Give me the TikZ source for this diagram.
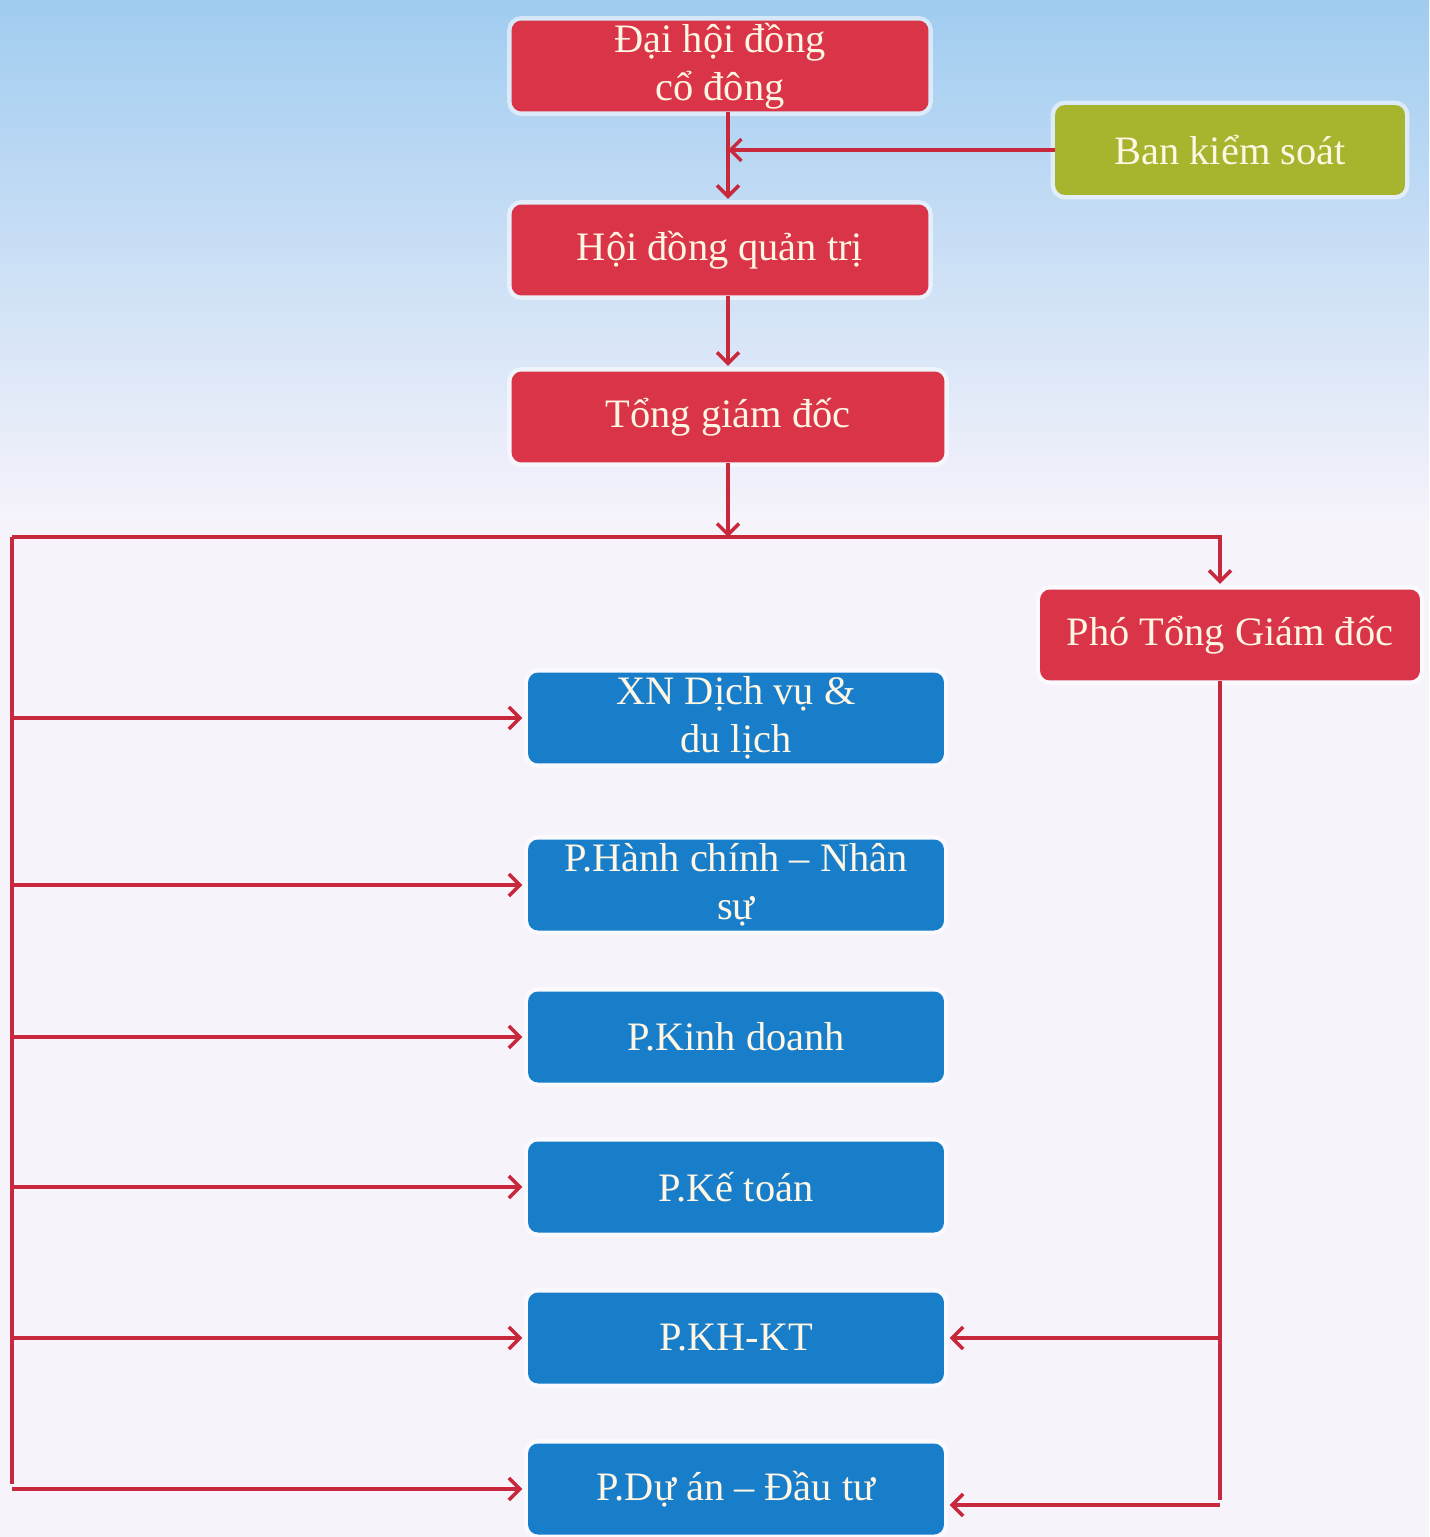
\documentclass[tikz,border=0pt]{standalone}
\usepackage{fontspec}
\setmainfont{Liberation Serif}
\usetikzlibrary{arrows.meta}
\definecolor{boxred}{RGB}{217,52,72}
\definecolor{boxgreen}{RGB}{166,180,46}
\definecolor{boxblue}{RGB}{24,126,202}
\definecolor{linered}{RGB}{200,40,60}
\definecolor{boxtext}{RGB}{255,246,228}
\definecolor{bgpale}{RGB}{246,243,251}
\definecolor{bgblue}{RGB}{160,204,240}
\begin{document}
\begin{tikzpicture}[x=0.02cm,y=-0.02cm,
    box/.style={rounded corners=0.2cm,inner sep=0pt,align=center,text=boxtext,
      font=\fontsize{23}{27.5}\selectfont,minimum height=1.82cm,
      preaction={draw=white,line width=5pt,opacity=.55}},
    redbox/.style={box,fill=boxred},
    bluebox/.style={box,fill=boxblue,minimum width=8.32cm},
    link/.style={draw=linered,line width=2pt},
    >={Straight Barb[length=0.22cm,width=0.44cm]}]
  \useasboundingbox (0,0) rectangle (1429,1537);
  \fill[bgpale] (0,0) rectangle (1429,1537);
  \shade[top color=bgblue,bottom color=bgpale] (0,0) rectangle (1429,520);
      \node[redbox,minimum width=8.34cm] (dh) at (720,66) {Đại hội đồng\\cổ đông};
      \node[box,fill=boxgreen,minimum width=7cm,minimum height=1.8cm] (bks) at (1230,150) {Ban kiểm soát};
      \node[redbox,minimum width=8.34cm] (hd) at (720,250) {Hội đồng quản trị};
      \node[redbox,minimum width=8.66cm] (tgd) at (728,417) {Tổng giám đốc};
      \node[redbox,minimum width=7.6cm] (pho) at (1230,635) {Phó Tổng Giám đốc};
      \node[bluebox] (xn) at (736,718) {XN Dịch vụ \&\\du lịch};
      \node[bluebox] (hc) at (736,885) {P.Hành chính – Nhân\\sự};
      \node[bluebox] (kd) at (736,1037) {P.Kinh doanh};
      \node[bluebox] (kt) at (736,1187) {P.Kế toán};
      \node[bluebox] (kh) at (736,1338) {P.KH-KT};
      \node[bluebox] (da) at (736,1489) {P.Dự án – Đầu tư};
      \coordinate (busL) at (12,537);
      \coordinate (busR) at (1220,537);
      \coordinate (endR) at (1220,1505);
      \begin{scope}[link,shorten >=3pt]
        \draw[->] (dh.south -| tgd) to (hd.north -| tgd);
        \draw[->,shorten >=0pt] (bks.west) to (bks.west -| tgd);
        \draw[->] (hd.south -| tgd) to (tgd.north);
        \draw[->,shorten >=0pt] (tgd.south) to (tgd.south |- busL);
        \draw[->] (busL) -- (busR) -- (busR |- pho.north);
        \draw (busL) to (busL |- da.west);
        \foreach \n in {xn,hc,kd,kt,kh,da}
          \draw[->] (busL |- \n.west) to (\n.west);
        \draw (pho.south -| busR) to (endR);
        \draw[->] (busR |- kh.east) to (kh.east);
        \draw[->] (endR) to (endR -| da.east);
      \end{scope}
\end{tikzpicture}
\end{document}
